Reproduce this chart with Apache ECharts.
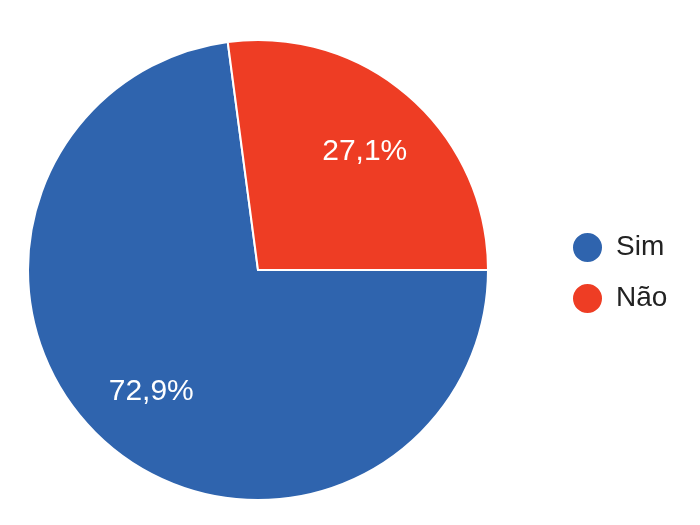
<!DOCTYPE html>
<html><head><meta charset="utf-8">
<script src="https://cdn.jsdelivr.net/npm/echarts@6/dist/echarts.min.js"></script>
<style>html,body{margin:0;padding:0;background:#fff}#c{width:700px;height:525px}</style>
</head><body><div id="c"></div>
<script>
var categories = ['Sim', 'Não'];
var values = [72.9, 27.1];
var labelsText = ['72,9%', '27,1%'];
var colors = ['#2f64ae', '#ee3d24'];

var richKeys = ['a', 'b'];
var data = categories.map(function(n, i){ return {name: n, value: values[i], itemStyle: {color: colors[i]}}; });
var labelData = categories.map(function(n, i){ return {name: n, value: values[i], label: {formatter: '{' + richKeys[i] + '|' + labelsText[i] + '}'}}; });

var chart = echarts.init(document.getElementById('c'));
chart.setOption({
  animation: false,
  legend: {
    orient: 'vertical', left: 571, top: 231, padding: 0,
    data: categories,
    icon: 'circle', itemWidth: 31, itemHeight: 31, itemGap: 18,
    textStyle: {fontFamily: 'Liberation Sans, Arial', fontSize: 28, color: '#222', padding: [8,0,0,8]}
  },
  series: [{
    type: 'pie', center: [258, 270], radius: [0, 230], startAngle: 0, clockwise: true,
    data: data, label: {show: false}, labelLine: {show: false},
    itemStyle: {borderColor: '#fff', borderWidth: 2}, emphasis: {disabled: true}
  }, {
    type: 'pie', center: [258, 270], radius: [88, 230], startAngle: 0, clockwise: true,
    data: labelData, silent: true,
    itemStyle: {color: 'rgba(0,0,0,0)'},
    label: {show: true, position: 'inside', color: '#fff', fontSize: 30, fontFamily: 'Liberation Sans, Arial',
      rich: {
        a: {color: '#fff', fontSize: 30, fontFamily: 'Liberation Sans, Arial'},
        b: {color: '#fff', fontSize: 30, fontFamily: 'Liberation Sans, Arial', padding: [8, 0, 0, 0]}
      }},
    labelLine: {show: false}, emphasis: {disabled: true}
  }]
});
</script></body></html>
